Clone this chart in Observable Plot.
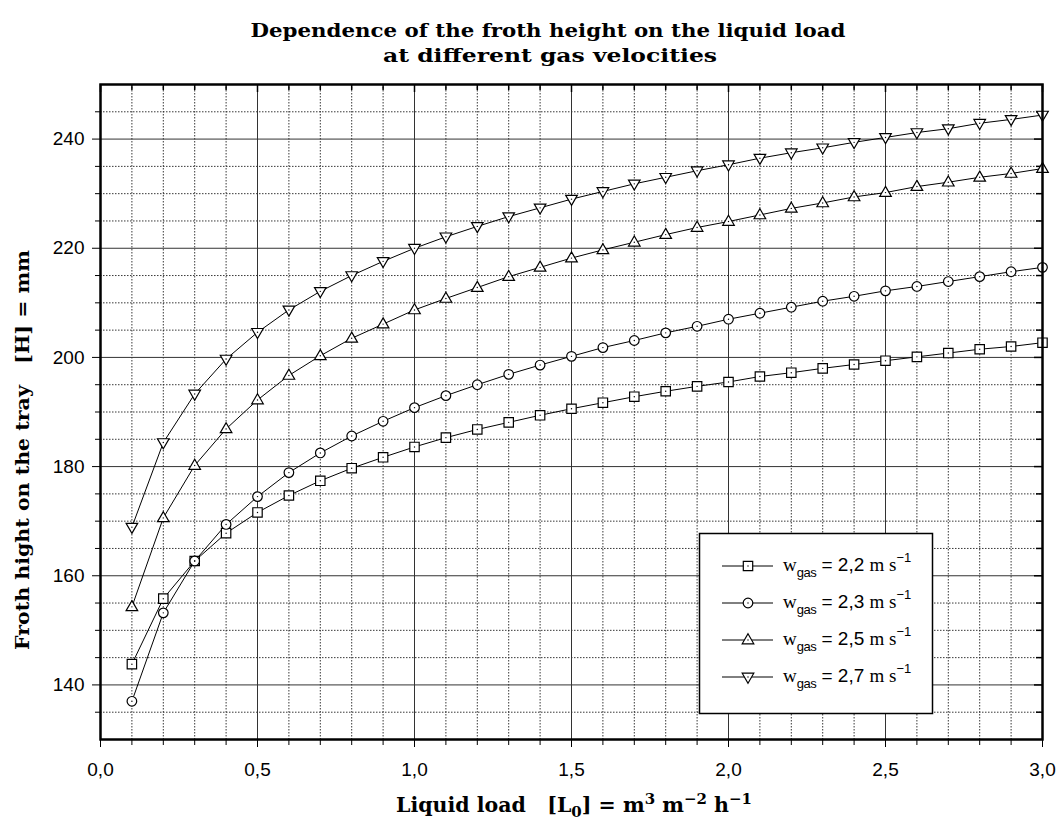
<!DOCTYPE html>
<html><head><meta charset="utf-8">
<script src="https://cdn.jsdelivr.net/npm/d3@7"></script>
<script src="https://cdn.jsdelivr.net/npm/@observablehq/plot@0.6"></script>
<style>body{margin:0;background:#fff}</style>
</head><body><div id="chart"></div>
<script>
// ---- data ----
const loads = [0.1,0.2,0.3,0.4,0.5,0.6,0.7,0.8,0.9,1.0,1.1,1.2,1.3,1.4,1.5,1.6,1.7,1.8,1.9,2.0,2.1,2.2,2.3,2.4,2.5,2.6,2.7,2.8,2.9,3.0];
const h22 = [143.8,155.8,162.7,167.8,171.6,174.7,177.4,179.7,181.7,183.6,185.3,186.8,188.1,189.4,190.6,191.7,192.8,193.8,194.7,195.5,196.5,197.2,198.0,198.7,199.4,200.1,200.8,201.5,202.0,202.7];
const h23 = [137.0,153.2,162.7,169.4,174.5,178.9,182.5,185.6,188.3,190.8,193.0,195.0,196.9,198.6,200.2,201.8,203.1,204.5,205.7,207.0,208.1,209.2,210.3,211.2,212.2,213.0,213.9,214.8,215.7,216.5];
const h25 = [154.3,170.6,180.2,186.9,192.2,196.7,200.3,203.5,206.1,208.7,210.8,212.8,214.8,216.5,218.2,219.7,221.1,222.5,223.8,224.9,226.1,227.3,228.3,229.4,230.2,231.3,232.1,233.0,233.7,234.6];
const h27 = [168.9,184.4,193.3,199.7,204.6,208.7,212.1,215.0,217.6,220.0,222.1,224.0,225.8,227.4,229.0,230.4,231.8,233.0,234.2,235.3,236.5,237.5,238.4,239.4,240.3,241.2,241.9,242.9,243.6,244.4];
const seriesNames = ["2,2","2,3","2,5","2,7"];
const seriesValues = [h22, h23, h25, h27];

const xMajor = [0,0.5,1.0,1.5,2.0,2.5,3.0];
const xMinor = [0.1,0.2,0.3,0.4,0.6,0.7,0.8,0.9,1.1,1.2,1.3,1.4,1.6,1.7,1.8,1.9,2.1,2.2,2.3,2.4,2.6,2.7,2.8,2.9];
const yMajor = [140,160,180,200,220,240];
const yMinor = [135,145,150,155,165,170,175,185,190,195,205,210,215,225,230,235,245];

const titleLines = ["Dependence of the froth height on the liquid load", "at different gas velocities"];
const yLabel = "Froth hight on the tray   [H] = mm";

// ---- long-form table ----
const table = [];
seriesNames.forEach((s, i) => loads.forEach((x, j) => table.push({series: s, load: x, h: seriesValues[i][j]})));

// ---- marker shapes ----
const shapeSquare = {draw(c){c.moveTo(-4.7,-4.7);c.lineTo(4.7,-4.7);c.lineTo(4.7,4.7);c.lineTo(-4.7,4.7);c.closePath();}};
const shapeCircle = {draw(c){c.moveTo(4.8,0);c.arc(0,0,4.8,0,2*Math.PI);}};
const shapeUp = {draw(c){c.moveTo(0,-6.2);c.lineTo(5.8,3.8);c.lineTo(-5.8,3.8);c.closePath();}};
const shapeDown = {draw(c){c.moveTo(0,6.2);c.lineTo(5.8,-3.8);c.lineTo(-5.8,-3.8);c.closePath();}};
const shapes = [shapeSquare, shapeCircle, shapeUp, shapeDown];

const W = 1060, H = 838, mL = 100, mR = 18, mT = 84, mB = 99;
const plotW = W - mL - mR, plotH = H - mT - mB;
const fmt = d => d.toFixed(1).replace(".", ",");

const chart = Plot.plot({
  width: W, height: H,
  marginLeft: mL, marginRight: mR, marginTop: mT, marginBottom: mB,
  style: {fontFamily: "'Liberation Sans', Arial, sans-serif", background: "white", color: "black"},
  x: {domain: [0, 3], label: null},
  y: {domain: [130, 250], label: null},
  symbol: {domain: seriesNames, range: shapes, legend: false},
  marks: [
    Plot.gridX(xMinor, {stroke: "#222", strokeOpacity: 0.9, strokeDasharray: "1.5,1.5", strokeWidth: 1}),
    Plot.gridY(yMinor, {stroke: "#222", strokeOpacity: 0.9, strokeDasharray: "1.5,1.5", strokeWidth: 1}),
    Plot.gridX(xMajor, {stroke: "#333", strokeOpacity: 1, strokeWidth: 1}),
    Plot.gridY(yMajor, {stroke: "#333", strokeOpacity: 1, strokeWidth: 1}),
    Plot.axisX(xMajor, {anchor: "bottom", tickSize: 8, tickPadding: 15, tickFormat: fmt, fontSize: 19, label: null}),
    Plot.axisX(xMinor, {anchor: "bottom", tickSize: 6, tickFormat: () => "", label: null}),
    Plot.axisY(yMajor, {anchor: "left", tickSize: 8, tickPadding: 8, fontSize: 19, label: null}),
    Plot.axisY(yMinor, {anchor: "left", tickSize: 5, tickFormat: () => "", label: null}),
    Plot.tickX(xMajor, {x: d => d, insetBottom: plotH - 8, stroke: "black", strokeWidth: 1.5}),
    Plot.tickX(xMinor, {x: d => d, insetBottom: plotH - 6, stroke: "black", strokeWidth: 1.5}),
    Plot.tickY(yMajor, {y: d => d, insetLeft: plotW - 8, stroke: "black", strokeWidth: 1.5}),
    Plot.tickY(yMinor, {y: d => d, insetLeft: plotW - 6, stroke: "black", strokeWidth: 1.5}),
    Plot.line(table, {x: "load", y: "h", z: "series", stroke: "black", strokeWidth: 1}),
    Plot.dot(table, {x: "load", y: "h", symbol: "series", r: 5, fill: "white", stroke: "black", strokeWidth: 1.2}),
    Plot.dot(table, {x: "load", y: "h", r: 0.7, fill: "black", stroke: "none"}),
    Plot.frame({stroke: "black", strokeWidth: 2.5})
  ]
});
document.getElementById("chart").appendChild(chart);

// ---- titles, labels, legend ----
const svg = d3.select(chart);
const boldFont = "'DejaVu Serif', serif";
svg.append("text").attr("x", 548).attr("y", 37).attr("text-anchor", "middle")
  .attr("font-family", boldFont).attr("font-weight", "bold").attr("font-size", 19)
  .attr("textLength", 595).attr("lengthAdjust", "spacingAndGlyphs").text(titleLines[0]);
svg.append("text").attr("x", 550).attr("y", 62).attr("text-anchor", "middle")
  .attr("font-family", boldFont).attr("font-weight", "bold").attr("font-size", 19)
  .attr("textLength", 334).attr("lengthAdjust", "spacingAndGlyphs").text(titleLines[1]);

svg.append("text").attr("transform", "translate(29,450) rotate(-90)").attr("text-anchor", "middle")
  .attr("font-family", boldFont).attr("font-weight", "bold").attr("font-size", 19)
  .attr("textLength", 400).attr("lengthAdjust", "spacingAndGlyphs").text(yLabel);

const xl = svg.append("text").attr("x", 574).attr("y", 812).attr("text-anchor", "middle")
  .attr("font-family", boldFont).attr("font-weight", "bold").attr("font-size", 20.5);
xl.append("tspan").text("Liquid load   [L");
xl.append("tspan").attr("font-size", 15).attr("dy", 5).text("0");
xl.append("tspan").attr("dy", -5).text("] = m");
xl.append("tspan").attr("font-size", 15).attr("dy", -8).text("3");
xl.append("tspan").attr("dy", 8).text(" m");
xl.append("tspan").attr("font-size", 15).attr("dy", -8).text("\u22122");
xl.append("tspan").attr("dy", 8).text(" h");
xl.append("tspan").attr("font-size", 15).attr("dy", -8).text("\u22121");

const lg = svg.append("g").attr("text-anchor", "start");
lg.append("rect").attr("x", 699.5).attr("y", 533.5).attr("width", 233).attr("height", 180)
  .attr("fill", "white").attr("stroke", "black").attr("stroke-width", 1.5);
seriesNames.forEach((s, i) => {
  const cy = 566 + i * 37;
  lg.append("line").attr("x1", 722).attr("x2", 773).attr("y1", cy).attr("y2", cy).attr("stroke", "black");
  lg.append("path").attr("transform", `translate(748,${cy})`).attr("d", d3.symbol(shapes[i])())
    .attr("fill", "white").attr("stroke", "black").attr("stroke-width", 1.2);
  lg.append("circle").attr("cx", 748).attr("cy", cy).attr("r", 0.7).attr("fill", "black");
  const t = lg.append("text").attr("x", 783).attr("y", cy + 5).attr("text-anchor", "start")
    .attr("font-family", "'Liberation Serif', serif").attr("font-size", 19);
  t.append("tspan").text("w");
  t.append("tspan").attr("font-size", 13).attr("dy", 6).attr("font-family", "'Liberation Sans', sans-serif").attr("letter-spacing", -0.5).text("gas");
  t.append("tspan").attr("dy", -6).attr("font-family", "'Liberation Sans', sans-serif").text(" = " + s + " ");
  t.append("tspan").text("m s");
  t.append("tspan").attr("font-size", 13).attr("dy", -9).attr("font-family", "'Liberation Sans', sans-serif").text("\u22121");
});
</script>
</body></html>
